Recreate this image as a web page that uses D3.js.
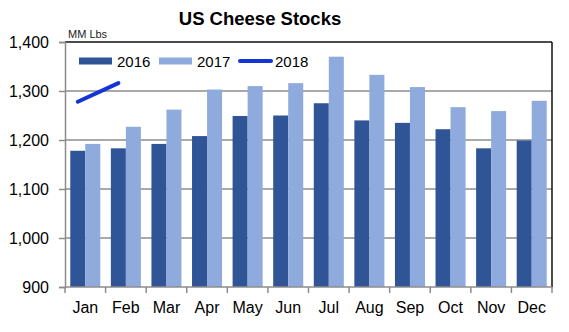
<!DOCTYPE html>
<html>
<head>
<meta charset="utf-8">
<script src="https://cdn.jsdelivr.net/npm/d3@7"></script>
<style>
  body { margin: 0; background: #fff; }
  text { font-family: "Liberation Sans", Arial, sans-serif; }
</style>
</head>
<body>
<div id="chart"></div>
<script>
const months = ["Jan","Feb","Mar","Apr","May","Jun","Jul","Aug","Sep","Oct","Nov","Dec"];
const stocks2016 = [1178,1183,1192,1208,1249,1250,1275,1240,1235,1222,1183,1199];
const stocks2017 = [1192,1227,1262,1303,1310,1316,1370,1333,1308,1267,1259,1280];
const stocks2018 = [1278,1316];
const yTicks = [900,1000,1100,1200,1300,1400];
const seriesNames = ["2016","2017"];
const colors = {"2016":"#2F5597","2017":"#8FAADC","2018":"#1434D6"};

const W = 569, H = 332;
const mLeft = 65, mRight = 552, mTop = 42, mBottom = 287;

const svg = d3.select("#chart").append("svg")
    .attr("width", W).attr("height", H);

const x0 = d3.scaleBand().domain(months).range([mLeft, mRight]).paddingInner(0.26).paddingOuter(0.13);
const x1 = d3.scaleBand().domain(seriesNames).range([0, x0.bandwidth()]);
const y = d3.scaleLinear().domain([900,1400]).range([mBottom, mTop]);

// gridlines
svg.append("g").selectAll("line")
    .data(yTicks.slice(1, -1)).enter()
    .append("line")
    .attr("x1", mLeft).attr("x2", mRight)
    .attr("y1", d => y(d)).attr("y2", d => y(d))
    .attr("stroke", "#8c8c8c").attr("stroke-width", 1.5);

// bars
const rows = months.map((m, i) => ({m: m, v: {"2016": stocks2016[i], "2017": stocks2017[i]}}));
svg.append("g").selectAll("g")
    .data(rows).enter()
    .append("g")
    .attr("transform", d => `translate(${x0(d.m)},0)`)
    .selectAll("rect")
    .data(d => seriesNames.map(s => ({s: s, v: d.v[s]}))).enter()
    .append("rect")
    .attr("x", d => x1(d.s))
    .attr("width", x1.bandwidth())
    .attr("y", d => y(d.v))
    .attr("height", d => y(900) - y(d.v))
    .attr("fill", d => colors[d.s]);

// 2018 line, placed at the 2016 bar centres
const line = d3.line()
    .x((d, i) => x0(months[i]) + x1("2016") + x1.bandwidth() / 2)
    .y(d => y(d));
svg.append("path")
    .datum(stocks2018)
    .attr("d", line)
    .attr("fill", "none")
    .attr("stroke", colors["2018"])
    .attr("stroke-width", 4)
    .attr("stroke-linecap", "round");

// frame: top and right
svg.append("line").attr("x1", mLeft).attr("x2", mRight).attr("y1", mTop).attr("y2", mTop)
    .attr("stroke", "#111").attr("stroke-width", 1.5);
svg.append("line").attr("x1", mRight).attr("x2", mRight).attr("y1", mTop).attr("y2", mBottom)
    .attr("stroke", "#111").attr("stroke-width", 1.5);

// y axis
const yAxis = svg.append("g")
    .attr("transform", `translate(${mLeft},0)`)
    .call(d3.axisLeft(y).tickValues(yTicks).tickSize(6).tickPadding(10).tickFormat(d3.format(",")));
yAxis.select(".domain").attr("stroke", "#8c8c8c").attr("stroke-width", 1.5);
yAxis.selectAll(".tick line").attr("stroke", "#8c8c8c").attr("stroke-width", 1.5);
yAxis.selectAll("text").attr("font-size", 16).attr("fill", "#000")
    .style("font-family", "'Liberation Sans', Arial, sans-serif");

// x axis with ticks at category boundaries
const xAxis = svg.append("g")
    .attr("transform", `translate(0,${mBottom})`);
xAxis.append("line").attr("x1", mLeft).attr("x2", mRight)
    .attr("stroke", "#8c8c8c").attr("stroke-width", 1.5);
const bounds = d3.range(months.length + 1).map(i => mLeft + i * (mRight - mLeft) / months.length);
xAxis.selectAll(".bt").data(bounds).enter()
    .append("line")
    .attr("x1", d => d).attr("x2", d => d)
    .attr("y1", 0).attr("y2", 6)
    .attr("stroke", "#8c8c8c").attr("stroke-width", 1.5);
xAxis.selectAll(".lbl").data(months).enter()
    .append("text")
    .attr("x", d => x0(d) + x0.bandwidth() / 2)
    .attr("y", 26)
    .attr("text-anchor", "middle")
    .attr("font-size", 16)
    .text(d => d);

// title and unit
svg.append("text").attr("x", 260).attr("y", 25).attr("text-anchor", "middle")
    .attr("font-size", 18.5).attr("font-weight", "bold").text("US Cheese Stocks");
svg.append("text").attr("x", 68).attr("y", 37.5)
    .attr("font-size", 11).attr("fill", "#222").text("MM Lbs");

// legend
const legend = [
  {name: "2016", x: 79, type: "bar"},
  {name: "2017", x: 159, type: "bar"},
  {name: "2018", x: 238, type: "line"}
];
const lg = svg.append("g").selectAll("g").data(legend).enter().append("g");
lg.filter(d => d.type === "bar").append("rect")
    .attr("x", d => d.x).attr("y", 57.5).attr("width", 33).attr("height", 7)
    .attr("fill", d => colors[d.name]);
lg.filter(d => d.type === "line").append("line")
    .attr("x1", d => d.x + 2).attr("x2", d => d.x + 33)
    .attr("y1", 61).attr("y2", 61)
    .attr("stroke", d => colors[d.name]).attr("stroke-width", 4).attr("stroke-linecap", "round");
lg.append("text")
    .attr("x", d => d.x + (d.type === "bar" ? 38 : 37))
    .attr("y", 66.5)
    .attr("font-size", 15)
    .text(d => d.name);
</script>
</body>
</html>
